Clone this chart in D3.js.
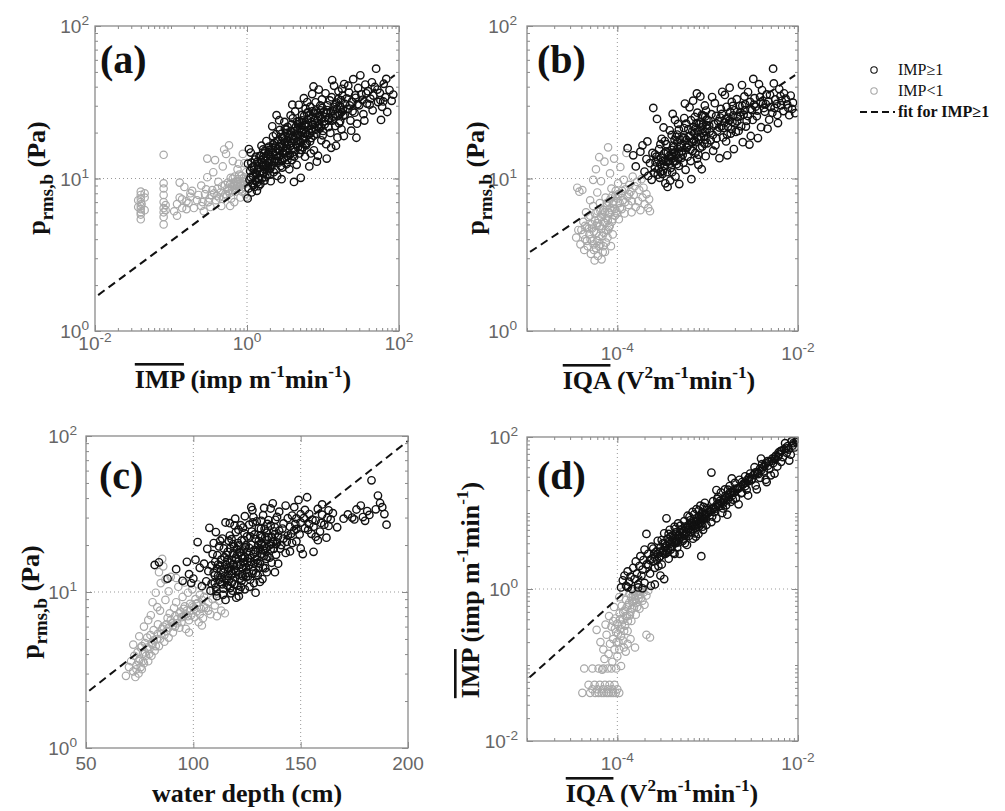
<!DOCTYPE html>
<html>
<head>
<meta charset="utf-8">
<script src="https://cdn.jsdelivr.net/npm/d3@7"></script>
<style>
  body { margin: 0; background: #fff; }
  svg { display: block; }
</style>
</head>
<body>
<div id="chart"></div>
<script>
// ---- data: [x, y] ----

// (a) IMP vs p_rms,b
const panelA_high = [
  [1.02,7.4],[1.05,8.6],[1.08,9.8],[1.1,11.2],[1.03,12.5],[1.12,14.8],[1.15,8.1],[1.18,9.3],[1.2,10.4],[1.22,12.0],[1.25,8.8],[1.28,10.9],[1.3,9.6],[1.06,15.6],[1.27,13.3],
  [1.35,8.3],[1.38,11.5],[1.4,10.1],[1.45,12.6],[1.5,9.2],[1.52,14.1],[1.55,16.4],[1.6,10.8],[1.62,11.9],[1.66,13.5],[1.7,9.7],[1.72,15.2],[1.78,12.3],[1.8,17.6],[1.85,10.5],[1.88,14.4],[1.92,11.3],[1.95,16.2],[1.98,13.0],[1.42,8.9],[1.58,12.8],[1.75,10.2],
  [2.05,9.6],[2.1,12.1],[2.15,22.0],[2.2,14.8],[2.25,11.0],[2.3,17.1],[2.35,13.4],[2.4,19.5],[2.5,10.4],[2.55,15.6],[2.6,12.7],[2.7,20.8],[2.75,14.2],[2.8,16.9],[2.9,11.8],[3.0,18.3],[3.05,13.6],[3.1,23.5],[3.2,15.1],[3.3,12.4],[3.35,19.9],[3.4,17.2],[2.45,26.0],[2.65,24.1],[2.85,9.9],[3.15,21.2],[2.2,18.9],[3.45,14.0],
  [3.6,11.5],[3.7,16.3],[3.8,20.5],[3.9,13.2],[4.0,24.8],[4.1,18.1],[4.2,15.0],[4.3,27.5],[4.4,21.9],[4.5,12.3],[4.6,17.6],[4.7,19.3],[4.8,30.4],[4.9,14.6],[5.0,23.0],[5.1,10.1],[5.2,20.2],[5.3,26.1],[5.4,16.0],[5.5,18.8],[5.6,33.6],[5.7,22.4],[5.8,13.9],[5.9,28.7],[3.75,25.9],[4.15,9.5],[4.65,22.7],[5.25,15.4],[5.75,19.7],[3.95,30.5],
  [6.1,17.0],[6.3,24.2],[6.5,20.9],[6.6,12.0],[6.8,29.6],[7.0,18.4],[7.2,35.8],[7.4,22.5],[7.6,15.3],[7.8,26.7],[8.0,31.6],[8.2,19.6],[8.4,24.0],[8.6,14.1],[8.8,38.3],[9.0,21.3],[9.3,28.0],[9.5,17.8],[9.7,33.0],[6.4,27.3],[6.9,14.6],[7.5,40.1],[8.3,12.9],[9.1,25.4],[9.9,19.2],[6.2,31.7],[7.1,23.4],
  [10.2,27.1],[10.5,22.6],[10.8,36.2],[11,16.8],[11.5,30.2],[12,24.9],[12.5,19.9],[13,34.1],[13.5,27.8],[14,40.5],[14.5,22.1],[15,31.4],[15.5,18.6],[16,37.3],[16.5,26.3],[17,29.5],[17.5,21.0],[18,35.0],[18.5,25.7],[19,41.6],[19.5,30.8],[11.2,13.5],[12.8,15.9],[14.8,16.4],[16.8,23.7],[18.8,19.0],[13.2,44.2],[17.8,38.7],
  [21,28.6],[22,36.6],[23,24.0],[24,31.9],[25,44.8],[26,27.0],[27,33.8],[28,22.9],[29,39.2],[30,30.2],[32,35.6],[34,26.4],[36,41.3],[38,31.0],[23.5,20.6],[27.5,18.5],[31,47.5],[35,24.0],[39,37.4],[21.5,40.6],
  [42,33.4],[45,28.0],[48,39.8],[50,52.5],[53,31.7],[56,36.4],[60,29.5],[63,41.8],[66,34.1],[70,27.3],[75,38.0],[80,32.3],[84,35.5],[44,42.7],[58,24.2],[68,45.0],[62,32.0],
  [1.12,10.2],[1.16,11.8],[1.21,9.1],[1.33,10.6],[1.37,12.9],[1.44,9.9],[1.48,11.1],[1.53,13.2],[1.57,10.0],[1.64,12.2],[1.68,14.6],[1.73,11.4],[1.82,13.1],[1.87,12.0],[1.93,14.9],[2.02,11.6],[2.08,13.9],[2.17,15.8],[2.28,12.9],[2.33,16.2],
  [2.42,14.1],[2.52,13.0],[2.58,17.8],[2.68,15.1],[2.78,12.1],[2.88,18.6],[2.98,15.9],[3.08,14.6],[3.18,17.3],[3.28,20.9],[3.38,15.7],[3.5,18.5],[3.65,14.3],[3.85,17.1],[4.05,15.9],[4.25,20.4],[4.45,16.9],[4.55,23.6],[4.75,18.0],[4.95,21.0],
  [5.15,17.2],[5.35,24.0],[5.55,20.7],[5.85,16.8],[6.0,22.6],[6.25,19.3],[6.55,25.9],[6.75,17.5],[7.05,21.2],[7.3,27.6],[7.55,19.1],[7.85,23.0],[8.1,20.9],[8.5,26.9],[8.9,22.6],[9.2,30.1],[9.6,24.6],[10.0,20.5],[10.6,25.2],[11.3,28.1],
  [11.8,21.7],[12.3,32.5],[13.3,24.0],[13.8,29.5],[14.3,26.4],[15.3,28.7],[15.8,33.1],[16.3,23.0],[17.3,32.6],[18.3,28.3],[19.3,26.2],[20.5,33.5],[22.5,30.1],[24.5,27.6],[26.5,35.1],[28.5,30.7],[33,32.8],[37,36.2],[41,30.5],[46,35.0],[52,38.3],[57,32.6],
  [1.14,12.7],[1.24,11.4],[1.31,13.9],[1.41,11.8],[1.46,14.0],[1.59,12.3],[1.63,15.5],[1.77,13.9],[1.9,12.7],[1.97,15.4],[2.12,13.0],[2.22,16.7],[2.37,15.0],[2.47,17.6],[2.62,14.0],[2.72,16.3],[2.82,19.6],[2.95,14.9],[3.12,19.0],[3.25,16.4],
  [3.42,21.8],[3.58,16.8],[3.72,19.4],[3.88,22.6],[4.02,18.9],[4.18,13.9],[4.35,19.1],[4.52,20.7],[4.68,16.0],[4.85,23.8],[5.05,19.2],[5.22,22.2],[5.45,18.1],[5.65,25.7],[5.95,20.1],[6.15,26.8],[6.45,22.3],[6.7,19.9],[6.95,24.9],[7.25,20.5],
  [7.7,24.2],[8.05,27.9],[8.45,22.0],[8.95,25.8],[9.4,21.7],[9.8,29.0],[10.4,23.7],[11.0,26.9],[11.7,24.1],[12.6,27.2],[13.6,25.5],[14.6,30.6],[15.6,25.8],[16.6,30.0],[17.6,27.3],[1.36,9.4],[1.67,10.9],[2.0,10.6],[2.4,11.4],[2.9,13.1],
  [3.4,13.2],[4.0,14.1],[5.0,15.4],[6.0,16.5]
]
const panelA_low = [
  [0.04,5.4],[0.04,5.8],[0.04,6.0],[0.04,6.3],[0.04,6.6],[0.04,7.0],[0.04,7.4],[0.04,7.8],[0.04,8.2],[0.041,6.8],[0.045,6.2],[0.045,7.5],[0.045,8.0],[0.037,6.5],[0.037,7.2],
  [0.08,5.0],[0.08,5.6],[0.08,6.0],[0.08,6.4],[0.08,7.0],[0.08,7.8],[0.08,8.6],[0.08,9.3],[0.08,14.3],[0.085,6.2],[0.085,6.7],
  [0.11,6.1],[0.12,6.8],[0.13,7.5],[0.14,6.4],[0.15,8.8],[0.13,9.4],[0.17,6.9],[0.18,7.6],[0.12,5.7],[0.16,7.1],[0.19,8.3],
  [0.22,7.2],[0.25,6.6],[0.28,7.9],[0.3,10.2],[0.32,7.4],[0.35,8.4],[0.25,9.0],[0.38,13.2],[0.4,7.7],[0.42,9.5],[0.45,8.1],[0.48,12],[0.3,13.5],[0.36,11],[0.5,15.5],[0.46,6.6],[0.27,6.1],[0.33,6.5],
  [0.55,8.6],[0.6,9.2],[0.62,7.4],[0.65,10],[0.7,8.2],[0.72,9.6],[0.75,11.5],[0.8,8.8],[0.85,10.4],[0.9,9.1],[0.95,7.9],[0.58,16.5],[0.65,13],[0.53,14.5],[0.88,14.5],[0.78,12.5],[0.92,12.6],[0.68,7],[0.82,7.5],[0.98,9.8],[0.6,6.6],[0.74,8.9],[0.87,9.6],[0.97,11],
  [0.52,7.9],[0.57,8.3],[0.63,8.8],[0.67,9.4],[0.71,9.0],[0.76,9.9],[0.81,9.3],[0.84,8.5],[0.89,10.0],[0.93,9.5],[0.96,8.7],[0.99,7.6],
  [0.31,7.0],[0.34,7.8],[0.37,8.0],[0.39,7.2],[0.41,8.6],[0.43,7.5],[0.47,8.9],[0.49,7.6],[0.51,9.1],[0.54,7.7],[0.56,9.4],[0.59,8.0],[0.61,10.1],[0.64,8.4],[0.66,9.0],
  [0.69,10.3],[0.73,8.6],[0.77,9.2],[0.79,10.6],[0.83,9.0],[0.86,8.2],[0.91,10.2],[0.94,9.2],[0.2,6.4],[0.23,7.8],[0.26,7.0],[0.29,8.5],[0.14,7.3],[0.16,6.3],[0.18,8.0]
]
const panelA_fit = [[0.011, 1.72], [88, 47.6]]

// (b) IQA vs p_rms,b
const panelB_high = [
  [1.3e-4,15.8],[1.5e-4,14.2],[1.6e-4,12.0],[1.8e-4,15.0],[2.0e-4,11.1],[2.1e-4,13.4],[2.2e-4,10.4],[2.3e-4,12.6],[2.4e-4,9.8],[1.9e-4,16.5],[2.45e-4,14.7],[2.15e-4,17.5],
  [2.5e-4,29.0],[2.6e-4,11.8],[2.7e-4,13.9],[2.8e-4,10.6],[2.9e-4,15.6],[3.0e-4,12.4],[3.1e-4,18.2],[3.2e-4,11.2],[3.3e-4,14.6],[3.4e-4,9.3],[3.5e-4,16.8],[3.6e-4,8.8],[3.7e-4,13.1],[3.8e-4,20.7],[3.9e-4,11.7],[4.0e-4,15.4],[4.1e-4,26.5],[4.2e-4,12.9],[4.3e-4,17.9],[4.4e-4,10.3],[4.5e-4,14.2],[4.6e-4,19.4],[4.7e-4,22.8],[4.8e-4,12.1],[4.9e-4,16.1],[2.75e-4,24.6],[3.25e-4,21.6],[3.85e-4,9.7],[4.35e-4,24.2],[4.85e-4,9.2],[2.95e-4,10.1],
  [5.1e-4,13.6],[5.3e-4,18.6],[5.5e-4,24.9],[5.7e-4,11.4],[5.9e-4,15.9],[6.1e-4,21.1],[6.3e-4,29.3],[6.5e-4,13.0],[6.7e-4,17.4],[6.9e-4,32.4],[7.1e-4,19.9],[7.3e-4,14.7],[7.5e-4,23.1],[7.7e-4,27.0],[7.9e-4,12.3],[8.1e-4,18.0],[8.3e-4,34.5],[8.5e-4,21.6],[8.7e-4,16.2],[8.9e-4,25.8],[9.1e-4,19.0],[9.3e-4,30.1],[9.5e-4,14.0],[9.7e-4,22.4],[9.9e-4,17.0],[5.6e-4,31.0],[6.6e-4,9.9],[7.6e-4,36.1],[8.6e-4,11.5],[9.6e-4,27.9],[6.2e-4,16.6],[7.2e-4,25.3],
  [1.05e-3,20.3],[1.1e-3,26.4],[1.15e-3,15.2],[1.2e-3,31.2],[1.25e-3,18.3],[1.3e-3,23.8],[1.35e-3,13.6],[1.4e-3,28.6],[1.5e-3,21.4],[1.55e-3,35.3],[1.6e-3,17.5],[1.7e-3,25.1],[1.75e-3,39.4],[1.8e-3,19.7],[1.9e-3,29.9],[1.95e-3,15.6],[2.0e-3,23.0],[2.1e-3,33.1],[2.2e-3,20.5],[2.3e-3,27.2],[2.4e-3,41.0],[2.45e-3,17.3],[1.45e-3,37.0],[1.65e-3,14.2],[1.85e-3,31.8],[2.15e-3,25.4],[1.12e-3,34.2],[2.35e-3,22.0],
  [2.6e-3,30.6],[2.7e-3,23.9],[2.8e-3,36.9],[3.0e-3,19.0],[3.1e-3,28.1],[3.3e-3,33.6],[3.5e-3,25.6],[3.7e-3,41.5],[3.9e-3,21.7],[4.1e-3,31.0],[4.3e-3,27.4],[4.5e-3,35.6],[4.8e-3,24.3],[5.0e-3,29.4],[5.3e-3,52.5],[5.6e-3,33.0],[5.9e-3,26.1],[6.2e-3,38.6],[6.5e-3,30.2],[6.9e-3,27.7],[7.3e-3,33.4],[7.8e-3,29.0],[8.3e-3,35.0],[8.8e-3,31.4],[9.3e-3,26.8],[2.9e-3,16.7],[3.6e-3,18.4],[4.0e-3,38.0],[4.6e-3,21.2],[5.4e-3,42.0],[6.0e-3,23.1],[7.0e-3,36.2],[8.0e-3,26.0],[3.2e-3,45.0],
  [2.55e-4,10.9],[2.65e-4,12.8],[2.85e-4,11.5],[3.05e-4,13.7],[3.15e-4,10.7],[3.35e-4,12.1],[3.45e-4,15.0],[3.55e-4,11.0],[3.65e-4,12.9],[3.75e-4,14.1],[3.95e-4,13.6],[4.05e-4,11.0],[4.15e-4,16.4],[4.25e-4,14.8],[4.55e-4,12.4],[4.65e-4,15.7],[4.75e-4,13.5],[4.95e-4,18.0],
  [5.2e-4,15.2],[5.4e-4,12.7],[5.8e-4,17.9],[6.0e-4,13.9],[6.4e-4,19.0],[6.8e-4,15.2],[7.0e-4,21.8],[7.4e-4,17.3],[7.8e-4,20.3],[8.2e-4,15.8],[8.4e-4,23.3],[8.8e-4,19.9],[9.2e-4,16.9],[9.8e-4,21.2],
  [1.08e-3,17.8],[1.18e-3,22.7],[1.28e-3,20.6],[1.38e-3,25.1],[1.48e-3,18.6],[1.58e-3,24.6],[1.68e-3,21.9],[1.78e-3,27.3],[1.88e-3,23.5],[2.05e-3,20.2],[2.25e-3,29.9],[2.5e-3,26.2],[2.65e-3,21.9],[2.95e-3,31.8],[3.15e-3,24.2],[3.4e-3,29.6],[3.8e-3,34.2],[4.2e-3,29.0],
  [4.7e-3,32.0],[5.2e-3,27.0],[5.8e-3,30.8],[6.4e-3,34.7],[7.6e-3,30.6],[8.6e-3,28.6],[1.02e-3,24.0],[1.22e-3,16.5],[1.42e-3,22.0],[1.62e-3,29.5],[1.92e-3,25.9],[2.55e-3,34.5],[5.8e-4,22.9],[7.9e-4,14.3],[9.4e-4,25.5],[3.0e-4,16.8],[4.0e-4,19.3],[4.8e-4,20.9],
  [2.62e-4,14.4],[2.82e-4,13.3],[3.02e-4,11.0],[3.22e-4,13.0],[3.42e-4,12.9],[3.62e-4,14.8],[3.82e-4,12.5],[4.02e-4,14.0],[4.22e-4,16.0],[4.42e-4,13.0],[4.62e-4,17.3],[4.82e-4,14.6],[5.05e-4,16.5],[5.3e-4,14.3],[5.55e-4,18.4],[5.85e-4,16.2],[6.15e-4,18.9],[6.45e-4,15.5],
  [6.75e-4,20.4],[7.05e-4,17.6],[7.35e-4,21.3],[7.7e-4,18.6],[8.05e-4,22.7],[8.45e-4,18.8],[8.85e-4,22.6],[9.25e-4,20.3],[9.7e-4,24.3],[1.04e-3,22.2],[1.14e-3,19.3],[1.24e-3,25.7],[1.34e-3,21.6],[1.44e-3,26.5],[1.54e-3,23.3],[1.64e-3,19.4],[1.74e-3,24.0],[1.84e-3,21.1],
  [1.98e-3,28.0],[2.12e-3,23.7],[2.28e-3,25.6],[2.42e-3,30.0],[2.58e-3,28.1],[2.78e-3,25.7],[2.98e-3,28.6],[3.25e-3,30.5],[3.55e-3,27.9],[3.85e-3,31.6],[4.4e-3,30.8],[4.9e-3,35.4],[5.5e-3,29.0],[6.6e-3,32.3],[3.35e-4,17.6],[4.45e-4,18.7],[5.45e-4,21.4],[6.55e-4,24.1],
  [7.65e-4,13.5],[8.65e-4,26.1],[9.45e-4,18.0]
]
const panelB_low = [
  [3.5e-5,4.1],[3.6e-5,8.7],[3.8e-5,8.2],[3.9e-5,3.7],[4.0e-5,4.6],[4.2e-5,5.2],[4.3e-5,3.4],[4.4e-5,4.0],[4.5e-5,6.0],[4.6e-5,4.8],[4.7e-5,3.6],[4.8e-5,5.6],[4.9e-5,4.3],[5.0e-5,7.2],[5.1e-5,3.2],[5.2e-5,5.0],[5.3e-5,3.9],[5.4e-5,6.6],[5.5e-5,4.5],[5.6e-5,2.9],
  [5.7e-5,5.9],[5.8e-5,3.5],[5.9e-5,4.9],[6.0e-5,8.1],[6.1e-5,3.1],[6.2e-5,5.4],[6.3e-5,4.2],[6.4e-5,6.9],[6.5e-5,3.7],[6.6e-5,9.6],[6.7e-5,4.7],[6.8e-5,5.8],[6.9e-5,3.3],[7.0e-5,6.2],[7.1e-5,4.4],[7.2e-5,12.9],[7.3e-5,5.1],[7.4e-5,7.5],[7.5e-5,3.8],[7.6e-5,5.5],
  [7.7e-5,6.6],[7.8e-5,4.1],[7.9e-5,16.0],[8.0e-5,7.0],[8.1e-5,4.8],[8.2e-5,5.9],[8.3e-5,10.8],[8.4e-5,6.4],[8.5e-5,3.6],[8.6e-5,8.6],[8.7e-5,5.2],[8.8e-5,7.7],[8.9e-5,4.3],[9.0e-5,6.8],[9.2e-5,13.5],[9.4e-5,5.7],[9.6e-5,8.3],[9.8e-5,6.1],[1.0e-4,7.4],[1.02e-4,9.3],
  [1.04e-4,5.4],[1.06e-4,6.9],[1.08e-4,11.9],[1.1e-4,8.0],[1.12e-4,6.3],[1.15e-4,7.2],[1.18e-4,9.8],[1.2e-4,5.9],[1.23e-4,8.5],[1.26e-4,14.7],[1.3e-4,7.6],[1.33e-4,6.7],[1.36e-4,9.1],[1.4e-4,8.2],[1.44e-4,6.0],[1.48e-4,10.3],[1.52e-4,7.8],[1.56e-4,8.9],[1.6e-4,6.5],[1.65e-4,9.5],
  [1.7e-4,7.1],[1.75e-4,8.4],[1.8e-4,6.2],[1.85e-4,9.9],[1.9e-4,7.5],[1.95e-4,8.7],[2.0e-4,6.8],[2.1e-4,7.9],[2.2e-4,6.4],[2.3e-4,6.1],[2.25e-4,7.3],[5.8e-5,11.5],[6.3e-5,13.8],[4.1e-5,8.4],[5.4e-5,9.8],[6.7e-5,2.95],[7.3e-5,3.3],[6.0e-5,5.1],[5.0e-5,5.7],[6.5e-5,6.1],
  [4.4e-5,4.9],[7.9e-5,4.6],
  [5.05e-5,4.0],[5.25e-5,4.7],[5.45e-5,3.7],[5.65e-5,5.3],[5.85e-5,4.4],[6.05e-5,6.1],[6.25e-5,3.6],[6.45e-5,4.9],[6.65e-5,5.6],[6.85e-5,4.2],[7.05e-5,5.2],[7.25e-5,6.0],[7.45e-5,4.6],[7.65e-5,6.9],[7.85e-5,5.3],[8.05e-5,6.0],[8.25e-5,4.9],[8.45e-5,7.4],[8.65e-5,6.2],
  [8.85e-5,5.4],[9.1e-5,7.1],[9.3e-5,6.3],[9.5e-5,7.7],[9.9e-5,5.9],[1.03e-4,7.9],[1.07e-4,6.4],[1.13e-4,8.3],[1.22e-4,7.0],[1.35e-4,7.9],[1.45e-4,7.1],[4.6e-5,3.9],[4.85e-5,4.7],[5.5e-5,3.4],[6.0e-5,3.9],[7.0e-5,3.6],[4.2e-5,4.3],[3.7e-5,4.6]
]
const panelB_fit = [[1.08e-5, 3.3], [9.3e-3, 47.6]]

// (c) water depth vs p_rms,b
const panelC_high = [
  [82,14.9],[84,15.5],[88,12.2],[92,14.0],[95,11.8],[97,15.6],[98,13.0],[100,12.2],[101,16.1],[103,14.3],[104,10.9],[105,15.2],[102,20.9],[99,11.4],
  [106,11.7],[107,13.6],[107.5,25.8],[108,10.2],[109,17.5],[110,12.8],[110.5,24.2],[111,9.4],[111.5,15.0],[112,19.6],[112.5,11.6],[113,13.9],[113.5,22.0],[114,10.5],[114.5,16.7],[115,27.9],[115,8.9],[106.5,18.9],[108.5,14.8],[109.5,20.6],[111.2,17.2],[113.2,12.4],[114.2,19.0],[110.2,15.6],
  [115.5,12.0],[116,18.1],[116.5,14.3],[117,23.0],[117.5,9.8],[118,16.0],[118.5,20.3],[119,11.2],[119.5,29.5],[120,13.5],[120.5,17.4],[121,25.1],[121.5,10.3],[122,15.0],[122.5,21.4],[123,12.6],[123.5,18.7],[124,30.6],[124.5,14.4],[125,22.7],
  [116,11.0],[117,27.6],[118,13.2],[119,19.6],[120,9.2],[121,15.7],[122,26.8],[123,16.4],[124,10.4],[125,18.0],[117.8,21.8],[119.8,24.2],[121.8,12.2],[123.8,23.8],[115.8,16.0],[118.8,14.9],[120.8,20.6],[122.8,13.0],
  [125.5,12.6],[126,27.0],[126.5,16.5],[127,20.1],[127.5,33.5],[128,13.7],[128.5,23.4],[129,18.1],[129.5,28.4],[130,15.3],[130.5,21.2],[131,11.6],[131.5,25.4],[132,17.6],[132.5,31.1],[133,19.7],[133.5,14.2],[134,24.0],[134.5,21.6],[135,28.9],
  [135.5,16.6],[136,34.3],[136.5,22.6],[137,37.0],[137.5,18.9],[138,26.0],[138.5,20.3],[139,30.3],[139.5,15.2],[140,24.7],[126,14.8],[128,30.2],[130,12.8],[132,22.4],[134,16.3],[136,26.6],[138,13.4],[140,32.7],[127,35.0],[133,34.6],[129,9.9],[131,19.0],
  [141,20.0],[142,27.5],[143,35.8],[144,23.0],[145,18.2],[146,30.9],[147,24.8],[148,21.1],[149,38.9],[150,27.9],[151,17.5],[152,25.6],[153,40.5],[154,31.6],[155,23.6],[156,18.1],[157,28.7],[158,34.1],[159,24.4],[160,31.3],[161,27.0],[162,22.3],[163,33.4],[164,29.2],[165,32.0],
  [143,17.8],[147,35.0],[150,19.0],[152,33.6],[156,26.2],[160,36.4],[145,26.2],[158,21.5],[163,26.5],[148,29.6],
  [167,26.0],[170,29.5],[172,31.4],[174,30.0],[176,33.8],[178,35.8],[179,30.2],[180,28.6],[182,31.2],[183,52.0],[185,33.9],[186,41.5],[187,37.2],[188,35.0],[189,31.6],[190,27.0],[175,29.2],[181,33.0],
  [110,11.4],[111,14.1],[112,12.0],[113,16.1],[114,13.3],[115,14.9],[116,12.7],[117,15.4],[118,11.5],[119,13.9],[120,16.2],[121,12.9],[122,18.0],[123,14.2],[124,16.8],[125,13.3],[126,19.2],[127,15.6],[128,17.5],[129,21.9],
  [130,18.4],[131,15.2],[132,20.1],[133,17.0],[134,19.1],[135,22.5],[136,18.8],[137,21.0],[138,23.5],[139,20.8],[116.5,21.3],[118.5,17.7],[120.5,11.0],[122.5,17.0],[124.5,20.0],[126.5,12.0],[128.5,15.2],[130.5,25.6],[132.5,14.3],[134.5,27.3],
  [112.5,21.3],[114.5,12.2],[119.2,26.7],[121.2,19.9],[123.2,25.9],[125.2,15.7],[127.2,24.4],[129.2,13.2],[131.2,23.0],[133.2,25.4],[136.2,20.3],[138.2,29.0],[142,22.0],[144,29.7],[146,20.6],[148,25.3],[150,31.5],[154,27.2],[157,22.6],[110.8,10.1],
  [113.8,9.6],[117.2,10.6],[121.2,9.4],
  [108.5,11.3],[109.5,13.3],[110.5,10.7],[111.5,12.7],[112.5,14.8],[113.5,11.2],[114.5,14.1],[115.5,17.3],[116.5,11.8],[117.5,13.6],[118.5,15.1],[119.5,12.4],[120.5,14.7],[121.5,17.8],[122.5,11.8],[123.5,15.5],[124.5,12.5],[125.5,16.5],[126.5,22.7],[127.5,13.1],
  [128.5,18.6],[129.5,16.1],[130.5,14.3],[131.5,20.6],[132.5,18.5],[133.5,22.4],[134.5,16.9],[135.5,19.9],[136.5,15.4],[137.5,24.5],[138.5,17.3],[139.5,22.7],[140.5,19.0],[141.5,25.5],[143.5,21.0],[145.5,23.6],[147.5,27.3],[149.5,23.4],[151.5,29.8],[153.5,25.0],
  [155.5,29.1],[159.5,27.7],[162.5,29.9],[116.2,13.7],[118.2,10.2],[120.2,18.8],[122.2,10.8],[124.2,19.3],[126.2,10.8],[128.2,11.4],[130.2,20.0],[132.2,12.1],[134.2,13.4],[117.2,19.0],[119.7,16.6],[123.7,21.5],[127.7,27.9],[131.7,28.6]
]
const panelC_low = [
  [68.6,2.9],[70,3.3],[71,3.6],[72,3.1],[72.5,3.9],[73,2.85],[73.5,3.4],[74,4.1],[74.5,3.0],[75,3.7],[75.5,4.4],[76,3.2],[76.5,4.0],[77,3.5],[77.5,4.7],[78,3.9],[78.5,5.1],[79,3.6],[79.5,4.3],[80,5.3],
  [80.5,3.9],[81,4.6],[81.5,5.7],[82,4.2],[82.5,9.9],[83,5.0],[83.5,6.2],[84,4.5],[84.5,7.6],[85,5.4],[85.5,16.3],[86,6.0],[86.5,4.8],[87,8.9],[87.5,5.6],[88,6.8],[88.5,5.1],[89,7.3],[89.5,12.5],[90,6.3],
  [90.5,5.5],[91,7.9],[91.5,6.0],[92,8.6],[92.5,6.7],[93,10.8],[93.5,5.9],[94,7.5],[94.5,6.4],[95,9.3],[95.5,7.0],[96,8.1],[96.5,5.8],[97,7.6],[97.5,9.9],[98,6.6],[98.5,8.4],[99,7.1],[99.5,10.4],[100,8.0],
  [100.5,6.9],[101,9.0],[101.5,7.5],[102,8.5],[102.5,6.4],[103,9.6],[103.5,7.8],[104,8.9],[104.5,6.8],[105,9.3],[106,7.9],[107,8.6],[108,7.2],[109,9.0],[110,8.2],[111,7.0],[112,8.8],[113,7.6],[114.7,7.3],
  [84,13.4],[86,14.6],[87,12.0],[84.8,11.4],[88.5,10.1],[92,12.3],[81,8.6],[83.2,8.0],[96,11.5],[74.8,5.2],[77,6.0],[79,6.6],[80.2,7.1],[72,4.6],[76,4.5],[98,5.5],[102,11.2],[104,6.1],[106,10.2],
  [73.5,3.2],[74.5,3.6],[75.5,3.3],[76.5,3.6],[77.5,4.1],[78.5,4.4],[79.5,4.0],[80.5,4.7],[81.5,4.9],[82.5,4.5],[83.5,5.4],[84.5,5.0],[85.5,5.8],[86.5,5.3],[87.5,6.2],[88.5,5.9],
  [89.5,6.6],[90.5,6.1],[91.5,7.0],[92.5,6.3],[93.5,7.3],[94.5,6.9],[95.5,7.8],[96.5,7.2],[97.5,7.0],[98.5,7.6],[99.5,8.2],[100.5,7.8],[101.5,8.4],[103,7.2],[105,8.0],[107,7.6]
]
const panelC_fit = [[51.5, 2.33], [200, 93]]

// (d) IQA vs IMP
const panelD_high = [
  [1.1e-4,1.05],[1.15e-4,1.3],[1.2e-4,1.5],[1.25e-4,1.1],[1.3e-4,1.7],[1.35e-4,1.25],[1.4e-4,1.45],[1.45e-4,1.0],[1.5e-4,1.9],[1.55e-4,1.35],[1.6e-4,2.3],[1.65e-4,1.6],[1.7e-4,1.15],[1.75e-4,2.0],[1.8e-4,2.7],[1.85e-4,1.5],[1.9e-4,1.8],[1.95e-4,2.4],[2.0e-4,1.2],[2.0e-4,3.3],[1.3e-4,1.05],[1.7e-4,1.05],[1.9e-4,1.02],
  [2.1e-4,5.3],[2.1e-4,2.1],[2.2e-4,2.9],[2.3e-4,1.6],[2.4e-4,3.6],[2.5e-4,2.3],[2.6e-4,1.9],[2.7e-4,3.1],[2.8e-4,4.3],[2.9e-4,2.6],[3.0e-4,3.5],[3.1e-4,2.1],[3.2e-4,4.0],[3.3e-4,5.4],[3.4e-4,2.9],[3.5e-4,8.5],[3.5e-4,3.7],[3.6e-4,4.6],[3.7e-4,2.5],[3.8e-4,6.0],
  [3.9e-4,3.3],[4.0e-4,4.2],[4.1e-4,5.1],[4.2e-4,3.0],[4.3e-4,6.6],[4.4e-4,4.0],[4.5e-4,5.6],[4.6e-4,3.5],[4.7e-4,7.3],[4.8e-4,4.7],[4.9e-4,2.9],[2.6e-4,1.15],[3.0e-4,1.5],[2.35e-4,1.1],[3.3e-4,1.35],[4.4e-4,6.2],[2.85e-4,2.0],[3.9e-4,4.9],
  [5.1e-4,6.1],[5.3e-4,4.3],[5.5e-4,7.8],[5.7e-4,5.2],[5.9e-4,3.8],[6.1e-4,6.9],[6.3e-4,8.9],[6.5e-4,5.6],[6.7e-4,7.4],[6.9e-4,4.6],[7.1e-4,9.6],[7.3e-4,6.3],[7.5e-4,11.2],[7.7e-4,7.9],[7.9e-4,5.3],[8.1e-4,9.0],[8.5e-4,2.7],[8.3e-4,12.5],[8.5e-4,7.1],[8.7e-4,10.2],
  [8.9e-4,6.0],[9.1e-4,8.4],[9.3e-4,13.6],[9.5e-4,9.6],[9.7e-4,7.0],[9.9e-4,11.6],[5.6e-4,6.6],[6.2e-4,5.0],[6.8e-4,10.3],[7.4e-4,4.9],[8.0e-4,6.6],[9.0e-4,12.0],[6.0e-4,9.2],
  [1.05e-3,10.5],[1.1e-3,34.0],[1.1e-3,7.6],[1.15e-3,14.3],[1.2e-3,11.3],[1.25e-3,8.5],[1.3e-3,16.2],[1.35e-3,12.4],[1.4e-3,18.6],[1.45e-3,10.0],[1.5e-3,14.7],[1.55e-3,20.4],[1.6e-3,12.6],[1.7e-3,17.5],[1.75e-3,22.6],[1.8e-3,14.0],
  [1.9e-3,19.6],[2.0e-3,24.9],[2.05e-3,15.6],[2.15e-3,21.1],[2.25e-3,27.3],[2.35e-3,18.2],[2.45e-3,23.6],[2.6e-3,30.4],[2.7e-3,20.3],[2.85e-3,26.3],[2.95e-3,33.0],[1.65e-3,9.5],[2.2e-3,13.0],[2.8e-3,17.0],[1.25e-3,20.0],[1.85e-3,28.5],
  [3.1e-3,28.2],[3.3e-3,40.0],[3.4e-3,23.0],[3.6e-3,33.6],[3.8e-3,29.0],[4.0e-3,44.0],[4.2e-3,35.4],[4.4e-3,27.4],[4.6e-3,48.0],[4.8e-3,37.9],[5.0e-3,31.3],[5.3e-3,45.3],[5.6e-3,51.2],[5.9e-3,40.9],[6.2e-3,59.0],
  [6.5e-3,47.2],[6.8e-3,54.5],[7.2e-3,83.0],[7.5e-3,62.0],[7.9e-3,68.5],[8.3e-3,58.5],[8.7e-3,77.0],[9.2e-3,73.0],[9.6e-3,85.0],[3.5e-3,20.5],[4.5e-3,25.5],[5.5e-3,33.0],[3.9e-3,52.0],[6.6e-3,66.0],[8.0e-3,49.0],
  [2.2e-4,2.1],[2.4e-4,2.5],[2.6e-4,2.6],[2.8e-4,2.9],[3.0e-4,2.7],[3.2e-4,3.2],[3.4e-4,3.5],[3.6e-4,3.3],[3.8e-4,3.9],[4.0e-4,3.6],[4.2e-4,4.1],[4.4e-4,4.6],[4.6e-4,4.3],[4.8e-4,5.1],[5.0e-4,4.8],[5.2e-4,5.2],[5.4e-4,5.8],[5.8e-4,5.6],
  [6.2e-4,6.3],[6.6e-4,6.1],[7.0e-4,7.0],[7.4e-4,7.6],[7.8e-4,7.1],[8.2e-4,8.2],[8.6e-4,8.9],[9.0e-4,8.6],[9.4e-4,9.3],[1.0e-3,9.9],[1.08e-3,10.4],[1.16e-3,11.8],[1.24e-3,12.0],[1.32e-3,13.4],[1.42e-3,13.6],[1.52e-3,15.5],[1.62e-3,16.0],[1.72e-3,16.2],
  [1.82e-3,18.3],[1.95e-3,18.5],[2.1e-3,20.5],[2.3e-3,22.0],[2.5e-3,24.3],[2.7e-3,26.9],[2.9e-3,29.5],[3.2e-3,31.6],[3.5e-3,34.5],[3.8e-3,38.5],[4.1e-3,40.0],[4.4e-3,45.0],[4.8e-3,47.0],[5.2e-3,52.0],[5.7e-3,57.0],[6.1e-3,62.5],[7.0e-3,69.0],[8.5e-3,88.0],
  [2.5e-4,3.4],[3.1e-4,4.4],[3.7e-4,5.3],[4.3e-4,2.9],[5.0e-4,6.8],[5.6e-4,4.0],[6.4e-4,8.0],[7.2e-4,5.4],[8.0e-4,10.8],[8.8e-4,6.6],[1.12e-3,9.0],[1.28e-3,15.3],[1.48e-3,11.5],[1.68e-3,20.3],[1.9e-3,15.0],[2.4e-3,18.5],[2.6e-3,22.5],
  [2.3e-4,2.4],[2.55e-4,2.9],[2.75e-4,2.4],[2.95e-4,3.1],[3.15e-4,3.0],[3.35e-4,3.9],[3.55e-4,3.0],[3.75e-4,4.2],[3.95e-4,3.6],[4.15e-4,4.7],[4.35e-4,4.3],[4.55e-4,5.0],[4.75e-4,4.1],[4.95e-4,5.6],[5.25e-4,5.5],[5.5e-4,4.6],[5.75e-4,6.3],[6.05e-4,5.9],
  [6.35e-4,6.8],[6.7e-4,6.6],[7.05e-4,7.9],[7.45e-4,6.9],[7.85e-4,8.5],[8.25e-4,7.5],[8.65e-4,9.6],[9.05e-4,9.5],[9.55e-4,8.3],[1.02e-3,11.0],[1.1e-3,11.3],[1.18e-3,10.3],[1.27e-3,13.0],[1.37e-3,14.4],[1.47e-3,13.2],[1.57e-3,16.8],[1.67e-3,14.9],[1.77e-3,18.9],
  [1.87e-3,17.0],[2.0e-3,20.8],[2.2e-3,21.0],[2.4e-3,25.5],[2.6e-3,25.0],[2.85e-3,28.8],[3.05e-3,27.0],[3.35e-3,34.0],[3.65e-3,32.5],[3.95e-3,37.0],[4.25e-3,41.5],[4.65e-3,42.0],[5.1e-3,48.5],[5.5e-3,54.0],[6.0e-3,55.0],[6.4e-3,65.0],[7.3e-3,72.0],[7.7e-3,76.0],
  [8.9e-3,83.0],[9.9e-3,92.0]
]
const panelD_low = [
  [4.1e-5,0.043],[5.0e-5,0.043],[5.7e-5,0.043],[6.2e-5,0.043],[6.7e-5,0.043],[7.1e-5,0.043],[7.6e-5,0.043],[8.0e-5,0.043],[8.5e-5,0.043],[9.0e-5,0.043],[9.6e-5,0.043],[1.05e-4,0.043],
  [5.3e-5,0.048],[6.0e-5,0.048],[6.9e-5,0.048],[7.8e-5,0.048],[8.8e-5,0.048],[1.0e-4,0.048],
  [4.8e-5,0.055],[5.6e-5,0.055],[6.4e-5,0.055],[7.3e-5,0.055],[8.2e-5,0.055],[9.3e-5,0.055],
  [4.3e-5,0.09],[5.3e-5,0.09],[6.2e-5,0.09],[7.0e-5,0.09],[7.8e-5,0.09],[8.6e-5,0.09],[9.7e-5,0.09],
  [5.9e-5,0.29],[6.5e-5,0.2],[7.0e-5,0.16],[7.2e-5,0.12],[7.6e-5,0.25],[8.0e-5,0.14],[8.3e-5,0.19],[8.6e-5,0.32],[8.8e-5,0.11],[9.0e-5,0.22],[9.3e-5,0.16],[9.5e-5,0.41],[9.7e-5,0.27],[1.0e-4,0.13],[1.0e-4,0.35],[1.03e-4,0.2],[1.06e-4,0.48],[1.08e-4,0.3],[1.1e-4,0.24],[1.12e-4,0.6],
  [1.15e-4,0.39],[1.18e-4,0.17],[1.2e-4,0.52],[1.22e-4,0.33],[1.25e-4,0.72],[1.28e-4,0.44],[1.3e-4,0.28],[1.33e-4,0.62],[1.36e-4,0.86],[1.4e-4,0.5],[1.43e-4,0.38],[1.46e-4,0.7],[1.5e-4,0.93],[1.53e-4,0.57],[1.56e-4,0.8],[1.6e-4,0.46],[1.64e-4,0.66],[1.68e-4,0.96],[1.72e-4,0.75],[1.76e-4,0.55],
  [1.8e-4,0.85],[1.85e-4,0.98],[1.9e-4,0.7],[1.95e-4,0.9],[2.0e-4,0.62],[2.1e-4,0.82],[2.2e-4,0.95],[2.3e-4,0.23],[2.1e-4,0.25],[1.57e-4,0.17],[1.4e-4,0.22],[7.4e-5,0.34],[8.1e-5,0.44],[9.2e-5,0.58],[1.05e-4,0.78],[1.17e-4,0.93],[6.8e-5,0.087],[1.1e-4,0.097],[1.24e-4,0.15],
  [1.02e-4,0.26],[1.07e-4,0.4],[1.12e-4,0.34],[1.16e-4,0.5],[1.19e-4,0.28],[1.23e-4,0.44],[1.27e-4,0.58],[1.31e-4,0.38],[1.35e-4,0.66],[1.38e-4,0.45],[1.42e-4,0.78],[1.45e-4,0.55],[1.49e-4,0.84],
  [1.52e-4,0.68],[1.58e-4,0.74],[1.62e-4,0.88],[1.66e-4,0.58],[1.7e-4,0.82],[1.78e-4,0.93],[1.83e-4,0.76],[9.4e-5,0.3],[9.8e-5,0.2],[1.05e-4,0.16],[9.0e-5,0.38],[1.15e-4,0.21],[1.3e-4,0.19]
]
const panelD_fit = [[1.07e-5, 0.069], [9.1e-3, 91]]

// tick values
const ticksA_x = [1e-2, 1, 1e2]
const ticksIQA_x = [1e-4, 1e-2]
const ticksDepth_x = [50, 100, 150, 200]
const ticksP_y = [1, 10, 100]
const ticksIMP_y = [1e-2, 1, 1e2]

const legendLabels = ['IMP\u22651', 'IMP<1', 'fit for IMP\u22651']

// ---- drawing ----
const W = 1005, H = 811
const BLACK = '#111', GRAY = '#a8a8a8', AXIS = '#8a8a8a', TICKTXT = '#666'
const serif = "'Liberation Serif', 'Times New Roman', serif"
const sans = "'Liberation Sans', Arial, sans-serif"

const svg = d3.select('#chart').append('svg')
  .attr('width', W).attr('height', H)
  .style('background', '#fff')

// text with sup/sub/overline pieces, baseline shifts done with dy
function rich(text, parts, size, supScale) {
  let shift = 0
  supScale = supScale || 0.66
  parts.forEach(function (p) {
    let target = p.sup ? -size * 0.42 : (p.sub ? size * 0.3 : 0)
    let ts = text.append('tspan').attr('dy', target - shift).text(p.t)
    if (p.sup) ts.attr('font-size', size * supScale)
    if (p.sub) ts.attr('font-size', size * 0.72)
    if (p.over) ts.style('text-decoration', 'overline')
    shift = target
  })
}

function logMinor(domain) {
  let out = []
  let lo = Math.floor(Math.log10(domain[0])), hi = Math.ceil(Math.log10(domain[1]))
  for (let k = lo; k <= hi; k++) {
    for (let d = 1; d <= 9; d++) {
      let v = d * Math.pow(10, k)
      if (v >= domain[0] * 0.999 && v <= domain[1] * 1.001) out.push(v)
    }
  }
  return out
}

const expLabel = v => ({base: '10', exp: String(Math.round(Math.log10(v)))})

const labIMP = [{t: 'IMP', over: true}, {t: ' (imp m'}, {t: '-1', sup: true}, {t: 'min'}, {t: '-1', sup: true}, {t: ')'}]
const labIQA = [{t: 'IQA', over: true}, {t: ' (V'}, {t: '2', sup: true}, {t: 'm'}, {t: '-1', sup: true}, {t: 'min'}, {t: '-1', sup: true}, {t: ')'}]
const labP = [{t: 'p'}, {t: 'rms,b', sub: true}, {t: ' (Pa)'}]
const labDepth = [{t: 'water depth (cm)'}]

const panels = [
  {id: 'a', left: 95, top: 26, w: 304, h: 305,
   x: d3.scaleLog().domain([1e-2, 1e2]), y: d3.scaleLog().domain([1, 100]),
   xTicks: ticksA_x, yTicks: ticksP_y, xGrid: [1], yGrid: [10],
   high: panelA_high, low: panelA_low, fit: panelA_fit,
   xLab: labIMP, xLabX: 243, xLabY: 388, yLab: labP, yLabX: 45, yLabY: 178,
   xTickY: 350, yTickGap: 6, letter: '(a)', letterX: 100, letterY: 73},
  {id: 'b', left: 527, top: 26, w: 271, h: 305,
   x: d3.scaleLog().domain([1e-5, 1e-2]), y: d3.scaleLog().domain([1, 100]),
   xTicks: ticksIQA_x, yTicks: ticksP_y, xGrid: [1e-4], yGrid: [10],
   high: panelB_high, low: panelB_low, fit: panelB_fit,
   xLab: labIQA, xLabX: 659, xLabY: 389, yLab: labP, yLabX: 484, yLabY: 178,
   xTickY: 360, yTickGap: 10, letter: '(b)', letterX: 537, letterY: 73},
  {id: 'c', left: 86, top: 436, w: 322, h: 312,
   x: d3.scaleLinear().domain([50, 200]), y: d3.scaleLog().domain([1, 100]),
   xTicks: ticksDepth_x, yTicks: ticksP_y, xGrid: [100, 150], yGrid: [10],
   high: panelC_high, low: panelC_low, fit: panelC_fit,
   xLab: labDepth, xLabX: 247, xLabY: 802, yLab: labP, yLabX: 39, yLabY: 602,
   xTickY: 770, yTickGap: 9, letter: '(c)', letterX: 99, letterY: 489},
  {id: 'd', left: 527, top: 437, w: 271, h: 304,
   x: d3.scaleLog().domain([1e-5, 1e-2]), y: d3.scaleLog().domain([1e-2, 1e2]),
   xTicks: ticksIQA_x, yTicks: ticksIMP_y, xGrid: [1e-4], yGrid: [1],
   high: panelD_high, low: panelD_low, fit: panelD_fit,
   xLab: labIQA, xLabX: 662, xLabY: 802, yLab: labIMP, yLabX: 479, yLabY: 590,
   xTickY: 770, yTickGap: 9, letter: '(d)', letterX: 537, letterY: 489}
]

panels.forEach(function (p) {
  p.x.range([0, p.w])
  p.y.range([p.h, 0])
  const logX = typeof p.x.base === 'function'
  const g = svg.append('g').attr('transform', `translate(${p.left},${p.top})`)

  g.append('clipPath').attr('id', 'clip-' + p.id)
    .append('rect').attr('width', p.w).attr('height', p.h)

  // dotted grid
  g.selectAll('.gx').data(p.xGrid).enter().append('line')
    .attr('x1', d => p.x(d)).attr('x2', d => p.x(d))
    .attr('y1', 0).attr('y2', p.h)
    .attr('stroke', '#999').attr('stroke-width', 1).attr('stroke-dasharray', '1,3')
  g.selectAll('.gy').data(p.yGrid).enter().append('line')
    .attr('y1', d => p.y(d)).attr('y2', d => p.y(d))
    .attr('x1', 0).attr('x2', p.w)
    .attr('stroke', '#999').attr('stroke-width', 1).attr('stroke-dasharray', '1,3')

  // inward ticks on all four sides
  const xMinor = logX ? logMinor(p.x.domain()) : []
  const yMinor = logMinor(p.y.domain())
  const addAxis = function (axis, tx, ty) {
    const a = g.append('g').attr('transform', `translate(${tx},${ty})`).call(axis)
    a.select('.domain').remove()
    a.selectAll('line').attr('stroke', AXIS)
  }
  ;[[p.xTicks, 6], [xMinor, 3]].forEach(function (t) {
    addAxis(d3.axisBottom(p.x).tickValues(t[0]).tickSize(-t[1]).tickFormat(''), 0, p.h)
    addAxis(d3.axisTop(p.x).tickValues(t[0]).tickSize(-t[1]).tickFormat(''), 0, 0)
  })
  ;[[p.yTicks, 6], [yMinor, 3]].forEach(function (t) {
    addAxis(d3.axisLeft(p.y).tickValues(t[0]).tickSize(-t[1]).tickFormat(''), 0, 0)
    addAxis(d3.axisRight(p.y).tickValues(t[0]).tickSize(-t[1]).tickFormat(''), p.w, 0)
  })

  // scatter
  const dots = g.append('g').attr('clip-path', `url(#clip-${p.id})`)
  dots.selectAll('.lo').data(p.low).enter().append('circle')
    .attr('cx', d => p.x(d[0])).attr('cy', d => p.y(d[1])).attr('r', 3.7)
    .attr('fill', 'none').attr('stroke', GRAY).attr('stroke-width', 1.2)
  dots.selectAll('.hi').data(p.high).enter().append('circle')
    .attr('cx', d => p.x(d[0])).attr('cy', d => p.y(d[1])).attr('r', 3.7)
    .attr('fill', 'none').attr('stroke', BLACK).attr('stroke-width', 1.4)
  dots.append('path').datum(p.fit)
    .attr('d', d3.line().x(d => p.x(d[0])).y(d => p.y(d[1])))
    .attr('fill', 'none').attr('stroke', BLACK).attr('stroke-width', 2)
    .attr('stroke-dasharray', '8,5')

  // box
  g.append('rect').attr('width', p.w).attr('height', p.h)
    .attr('fill', 'none').attr('stroke', AXIS).attr('stroke-width', 1.3)

  // tick labels
  p.xTicks.forEach(function (v) {
    const t = svg.append('text').attr('x', p.left + p.x(v)).attr('y', p.xTickY)
      .attr('text-anchor', 'middle').attr('font-family', sans).attr('font-size', 19).attr('fill', TICKTXT)
    if (logX) {
      const l = expLabel(v)
      rich(t, [{t: l.base}, {t: l.exp, sup: true}], 19, 0.72)
    } else t.text(v)
  })
  p.yTicks.forEach(function (v) {
    const t = svg.append('text').attr('x', p.left - p.yTickGap).attr('y', p.top + p.y(v) + 7)
      .attr('text-anchor', 'end').attr('font-family', sans).attr('font-size', 19).attr('fill', TICKTXT)
    const l = expLabel(v)
    rich(t, [{t: l.base}, {t: l.exp, sup: true}], 19, 0.72)
  })

  // axis titles
  const xt = svg.append('text').attr('x', p.xLabX).attr('y', p.xLabY)
    .attr('text-anchor', 'middle').attr('font-family', serif).attr('font-weight', 'bold')
    .attr('font-size', 26).attr('fill', '#111')
  rich(xt, p.xLab, 26)
  const yt = svg.append('text')
    .attr('transform', `translate(${p.yLabX},${p.yLabY}) rotate(-90)`)
    .attr('text-anchor', 'middle').attr('font-family', serif).attr('font-weight', 'bold')
    .attr('font-size', 26).attr('fill', '#111')
  rich(yt, p.yLab, 26)

  // panel letter
  svg.append('text').attr('x', p.letterX).attr('y', p.letterY)
    .attr('font-family', serif).attr('font-weight', 'bold').attr('font-size', 40)
    .attr('fill', '#111').text(p.letter)
})

// legend
const leg = svg.append('g').attr('font-family', serif).attr('font-size', 16).attr('fill', '#111')
leg.append('circle').attr('cx', 874).attr('cy', 70).attr('r', 3.2)
  .attr('fill', 'none').attr('stroke', BLACK).attr('stroke-width', 1.1)
leg.append('circle').attr('cx', 874).attr('cy', 91).attr('r', 3.2)
  .attr('fill', 'none').attr('stroke', GRAY).attr('stroke-width', 1.1)
leg.append('line').attr('x1', 860).attr('x2', 895).attr('y1', 112).attr('y2', 112)
  .attr('stroke', BLACK).attr('stroke-width', 2).attr('stroke-dasharray', '7,4')
leg.selectAll('.lt').data(legendLabels).enter().append('text')
  .attr('x', 898).attr('y', (d, i) => [75, 96, 117][i])
  .attr('font-weight', (d, i) => i === 2 ? 'bold' : 'normal')
  .text(d => d)
</script>
</body>
</html>
